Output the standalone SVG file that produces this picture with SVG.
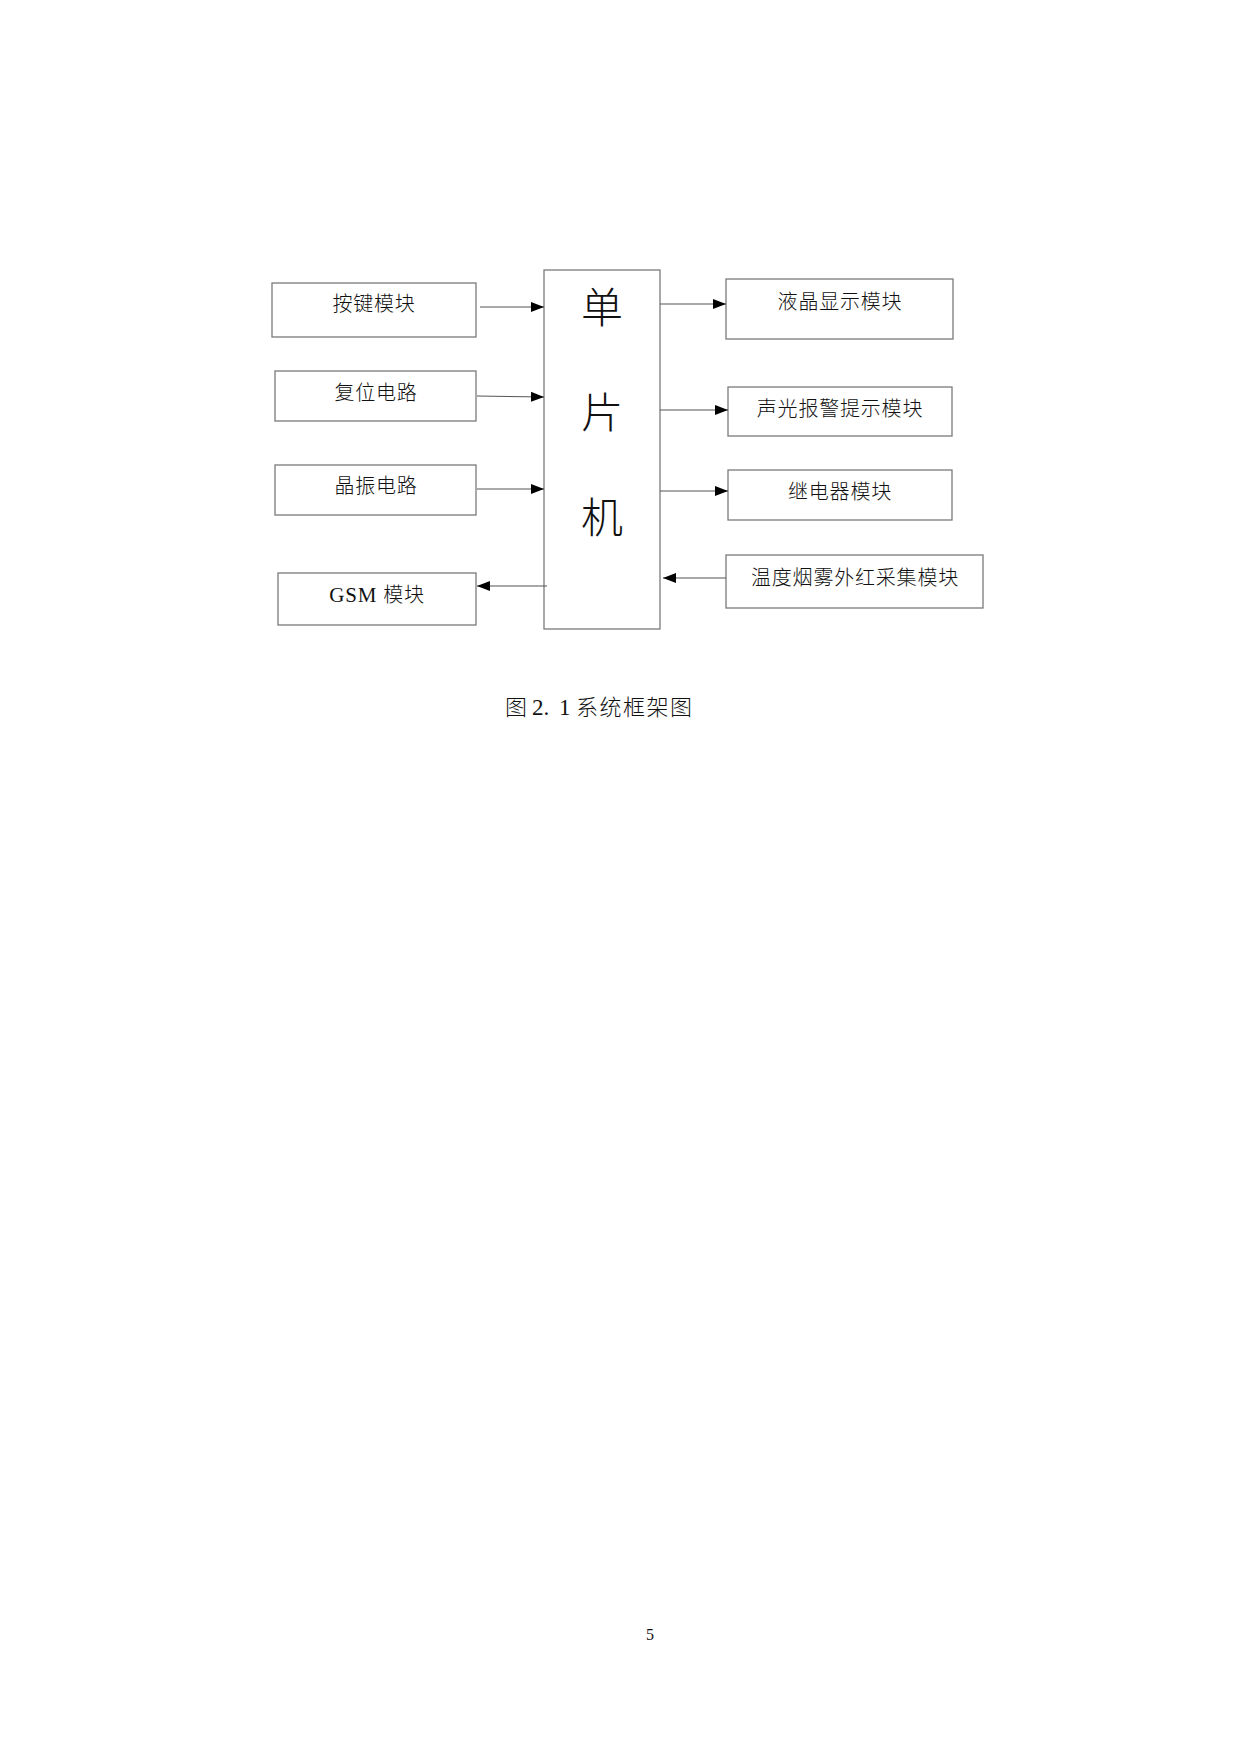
<svg xmlns="http://www.w3.org/2000/svg" width="1240" height="1754" viewBox="0 0 1240 1754">
<defs>
<marker id="ah" markerUnits="userSpaceOnUse" markerWidth="13" markerHeight="10" refX="13" refY="5" orient="auto">
<path d="M0,0 L13,5 L0,10 z" fill="#000"/>
</marker>
<style>
.box{fill:#fff;stroke:#7a7a7a;stroke-width:1.3}
.ln{stroke:#555;stroke-width:1.1;fill:none;marker-end:url(#ah)}
.t{font-family:"Noto Sans CJK SC",sans-serif;font-size:20px;fill:#111;text-anchor:middle;letter-spacing:0.8px;font-weight:300}
.big{font-family:"Noto Sans CJK SC",sans-serif;font-size:42px;fill:#111;text-anchor:middle;font-weight:300}
.lat{font-family:"Liberation Serif",serif;font-weight:400}
.cap{font-family:"Noto Sans CJK SC",sans-serif;font-size:22px;fill:#111;font-weight:300}
</style>
</defs>
<rect width="1240" height="1754" fill="#fff"/>
<g id="mcu"><rect class="box" x="544" y="270" width="116" height="359"/>
<text class="big" x="602" y="323">单</text>
<text class="big" x="602" y="428">片</text>
<text class="big" x="602" y="533">机</text></g>
<g id="key"><rect class="box" x="272" y="283" width="204" height="54"/><text class="t" x="374" y="311">按键模块</text></g>
<g id="reset"><rect class="box" x="275" y="371" width="201" height="50"/><text class="t" x="376" y="400">复位电路</text></g>
<g id="osc"><rect class="box" x="275" y="465" width="201" height="50"/><text class="t" x="376" y="493">晶振电路</text></g>
<g id="gsm"><rect class="box" x="278" y="573" width="198" height="52"/><text class="t" x="377" y="602"><tspan class="lat" font-size="21">GSM </tspan>模块</text></g>
<g id="lcd"><rect class="box" x="726" y="279" width="227" height="60"/><text class="t" x="840" y="309">液晶显示模块</text></g>
<g id="alarm"><rect class="box" x="728" y="387" width="224" height="49"/><text class="t" x="840" y="416">声光报警提示模块</text></g>
<g id="relay"><rect class="box" x="728" y="470" width="224" height="50"/><text class="t" x="840" y="499">继电器模块</text></g>
<g id="sensor"><rect class="box" x="726" y="555" width="257" height="53"/><text class="t" x="855" y="585">温度烟雾外红采集模块</text></g>
<g id="connectors">
<line class="ln" x1="480" y1="307" x2="544" y2="307"/>
<line class="ln" x1="477" y1="396" x2="544" y2="397"/>
<line class="ln" x1="477" y1="489" x2="544" y2="489"/>
<line class="ln" x1="547" y1="586" x2="477" y2="586"/>
<line class="ln" x1="660" y1="304" x2="726" y2="304"/>
<line class="ln" x1="660" y1="410" x2="728" y2="410"/>
<line class="ln" x1="660" y1="491" x2="728" y2="491"/>
<line class="ln" x1="726" y1="578" x2="663" y2="578"/>
</g>
<text class="cap" y="715"><tspan x="505">图</tspan><tspan class="lat" x="532" font-size="23">2.</tspan><tspan class="lat" x="559" font-size="23">1</tspan><tspan x="576" letter-spacing="1.5">系统框架图</tspan></text>
<text x="650" y="1640" style="font-family:'Liberation Serif',serif;font-size:16px;fill:#111;text-anchor:middle">5</text>
</svg>
